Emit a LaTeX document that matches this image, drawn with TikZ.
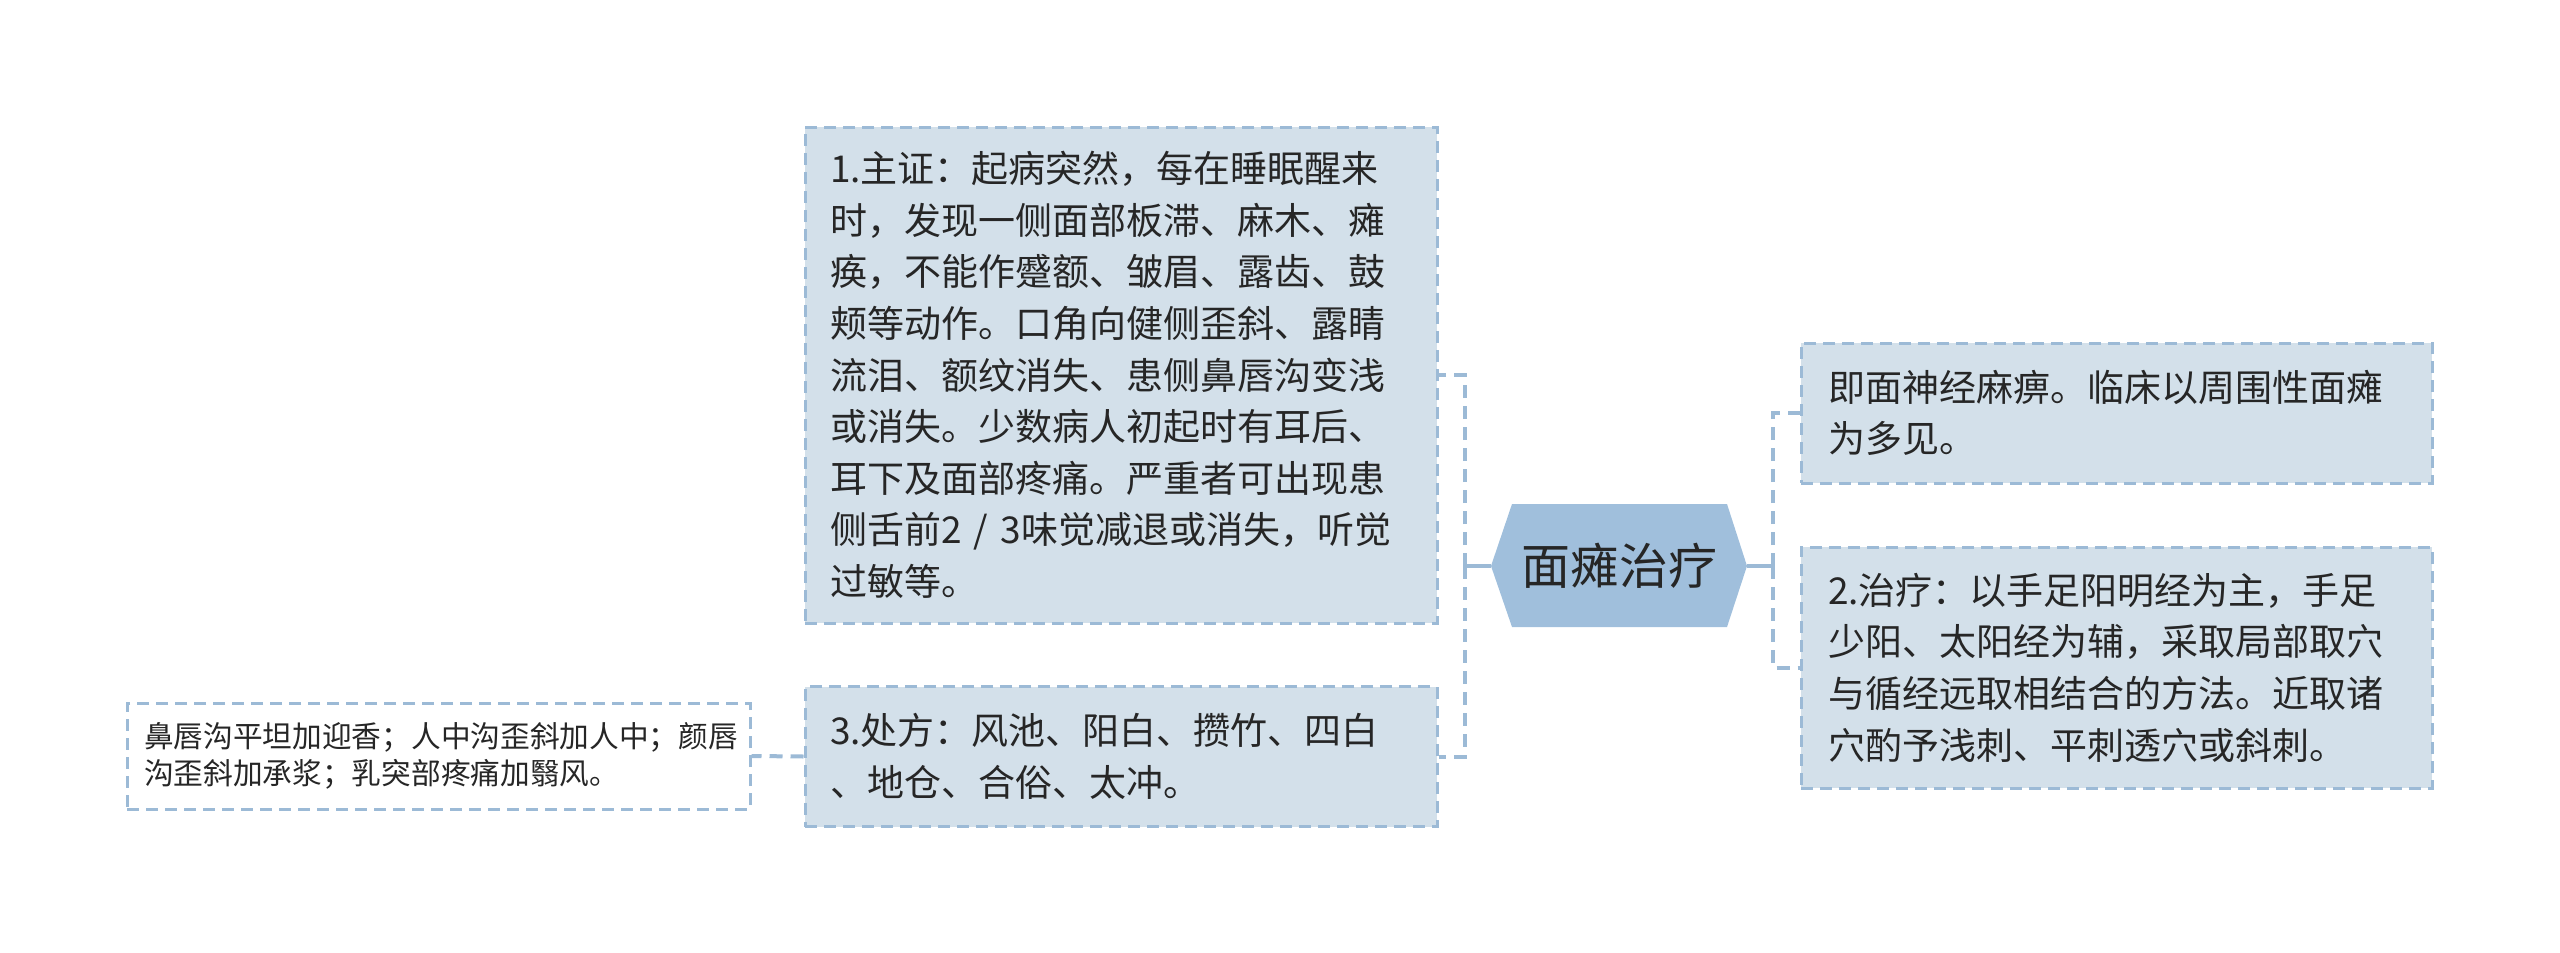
\documentclass[tikz,border=0pt]{standalone}
\usepackage{fontspec}
\setmainfont{Noto Sans CJK SC}
\definecolor{lineblue}{HTML}{9CBAD6}
\definecolor{boxfill}{HTML}{D3E0EA}
\definecolor{hexfill}{HTML}{A0BFDC}
\definecolor{txt}{HTML}{262626}
\tikzset{
  mmbox/.style={draw=lineblue, line width=1.5pt, dash pattern=on 6pt off 3.5pt,
    fill=boxfill, align=left, anchor=center, inner xsep=12.5pt, inner ysep=0pt,
    text=txt, font=\fontsize{18.5pt}{25.8pt}\selectfont},
  leafbox/.style={mmbox, fill=white, inner xsep=8.5pt,
    font=\fontsize{14.85pt}{18.85pt}\selectfont},
  dconn/.style={draw=lineblue, line width=2pt, dash pattern=on 6.5pt off 4pt},
  sconn/.style={draw=lineblue, line width=2pt},
}
\begin{document}
\begin{tikzpicture}[x=0.5pt,y=-0.5pt]
\useasboundingbox (0,0) rectangle (2560,953);
% central hexagon
\fill[hexfill] (1491,566) -- (1512,504) -- (1727,504) -- (1747,566) -- (1727,627) -- (1512,627) -- cycle;
\coordinate (hexL) at (1491,566);
\coordinate (hexR) at (1747,566);
\node[text=txt, font=\fontsize{24.5pt}{30pt}\selectfont, inner sep=0pt] (c) at (1619,566) {面瘫治疗};
% left branch
\node[mmbox, text width=291pt, minimum height=248pt] (b1) at (1121,375) {1.主证：起病突然，每在睡眠醒来\\时，发现一侧面部板滞、麻木、瘫\\痪，不能作蹙额、皱眉、露齿、鼓\\颊等动作。口角向健侧歪斜、露睛\\流泪、额纹消失、患侧鼻唇沟变浅\\或消失。少数病人初起时有耳后、\\耳下及面部疼痛。严重者可出现患\\侧舌前2 / 3味觉减退或消失，听觉\\过敏等。};
\node[mmbox, text width=291pt, minimum height=70pt] (b3) at (1121,756.5) {3.处方：风池、阳白、攒竹、四白\\、地仓、合俗、太冲。};
\node[leafbox, text width=294.5pt, minimum height=53pt] (leaf) at (438.5,756) {鼻唇沟平坦加迎香；人中沟歪斜加人中；颜唇\\沟歪斜加承浆；乳突部疼痛加翳风。};
% right branch
\node[mmbox, text width=288.5pt, inner xsep=13.5pt, minimum height=70pt] (r1) at (2116.5,413) {即面神经麻痹。临床以周围性面瘫\\为多见。};
\node[mmbox, text width=288.5pt, inner xsep=13.5pt, minimum height=120.5pt] (r2) at (2116.5,667.5) {2.治疗：以手足阳明经为主，手足\\少阳、太阳经为辅，采取局部取穴\\与循经远取相结合的方法。近取诸\\穴酌予浅刺、平刺透穴或斜刺。};
% connectors
\coordinate (lt) at (1465,566);
\coordinate (rt) at (1773,566);
\draw[sconn] (hexL) -- (lt);
\draw[dconn] (lt) |- (b1.east);
\draw[dconn] (lt) |- (b3.east);
\draw[sconn] (hexR) -- (rt);
\draw[dconn] (rt) |- (r1.west);
\draw[dconn] (rt) |- (r2.west);
\draw[dconn] (b3.west) -- (leaf.east);
\end{tikzpicture}
\end{document}
